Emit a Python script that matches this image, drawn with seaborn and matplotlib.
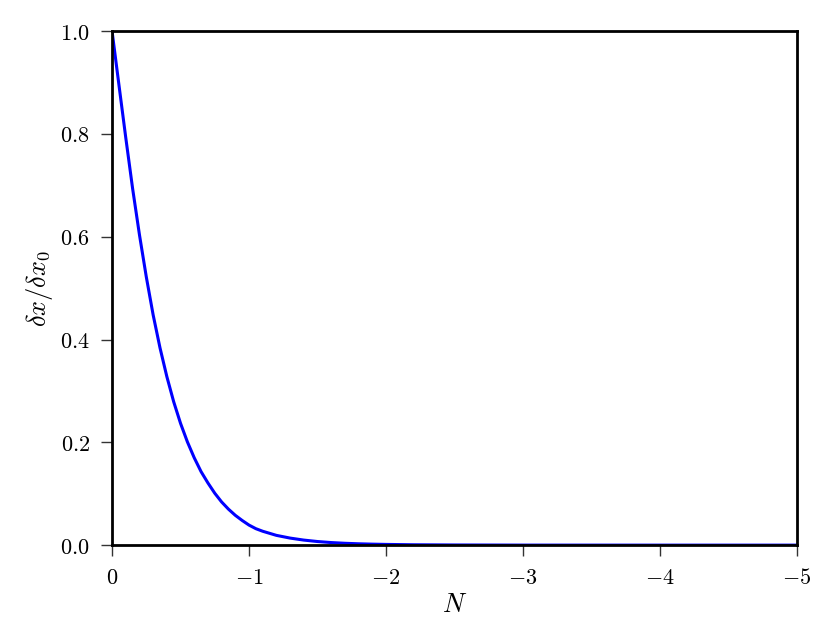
import matplotlib
matplotlib.use("Agg")
import matplotlib.pyplot as plt
import seaborn as sns
import pandas as pd
from matplotlib.ticker import FuncFormatter

# Values
N_values = [0.0, -0.05, -0.10, -0.15, -0.20, -0.25, -0.30, -0.35, -0.40, -0.45,
            -0.50, -0.55, -0.60, -0.65, -0.70, -0.75, -0.80, -0.85, -0.90, -0.95,
            -1.00, -1.05, -1.10, -1.20, -1.30, -1.40, -1.50, -1.60, -1.70, -1.80,
            -1.90, -2.00, -2.20, -2.50, -3.00, -4.00, -5.00]
dx_ratio = [1.000, 0.896, 0.793, 0.694, 0.604, 0.522, 0.448, 0.384, 0.328, 0.279,
            0.237, 0.201, 0.170, 0.143, 0.121, 0.101, 0.084, 0.070, 0.058, 0.048,
            0.039, 0.032, 0.027, 0.019, 0.0137, 0.0098, 0.0070, 0.0050, 0.0036, 0.0026,
            0.0019, 0.0014, 0.0007, 0.0003, 0.00005, 0.0, 0.0]

x_ticks = [0, -1, -2, -3, -4, -5]
y_ticks = [0.0, 0.2, 0.4, 0.6, 0.8, 1.0]

sns.set_theme(style="white")
plt.rcParams["mathtext.fontset"] = "cm"
plt.rcParams["font.family"] = ["DejaVu Serif"]
plt.rcParams["text.color"] = "black"
plt.rcParams["axes.labelcolor"] = "black"

df = pd.DataFrame({"N": N_values, "ratio": dx_ratio})

fig = plt.figure(figsize=(8.3, 6.23), dpi=100)
ax = fig.add_axes([0.135, 0.125, 0.825, 0.825])

sns.lineplot(data=df, x="N", y="ratio", ax=ax, color="#0000ff", linewidth=2.2,
             sort=False, estimator=None)

ax.set_xlim(0, -5)
ax.set_ylim(0, 1)
ax.set_xticks(x_ticks)
ax.set_yticks(y_ticks)
ax.xaxis.set_major_formatter(FuncFormatter(lambda v, p: r"$%d$" % round(v)))
ax.yaxis.set_major_formatter(FuncFormatter(lambda v, p: r"$%.1f$" % v))

ax.set_xlabel(r"$N$", fontsize=19, labelpad=2, color="black")
ax.set_ylabel(r"$\delta x/\delta x_0$", fontsize=19, labelpad=4, color="black")

for s in ax.spines.values():
    s.set_visible(True)
    s.set_color("black")
    s.set_linewidth(2.0)

ax.tick_params(axis="both", which="major", direction="out", length=8, width=1.0,
               color="#333333", labelcolor="black", labelsize=16, pad=8,
               bottom=True, left=True, top=False, right=False)
ax.grid(False)

fig.savefig("out.png", dpi=100)
